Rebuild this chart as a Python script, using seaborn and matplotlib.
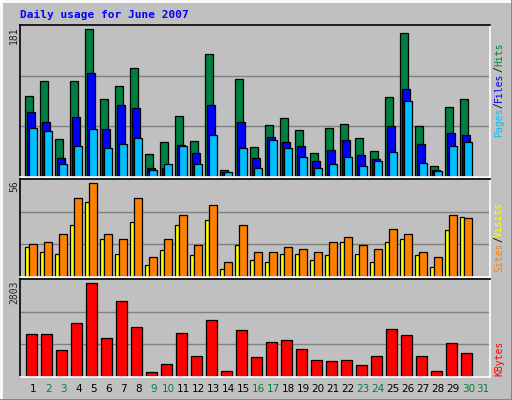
import matplotlib
matplotlib.use("Agg")
import matplotlib.pyplot as plt
import seaborn as sns
import numpy as np

sns.set_style("white")
plt.rcParams['font.family'] = ['DejaVu Sans Mono']

days = list(range(1, 32))
hits = [99,118,46,118,181,96,111,133,28,43,75,44,151,9,120,37,64,72,58,29,60,65,48,32,98,176,62,14,86,96,0]
files = [79,67,23,74,127,59,88,85,11,11,39,29,88,6,67,23,49,43,38,19,33,45,27,22,62,108,40,9,54,51,0]
pages = [60,56,16,38,59,35,40,48,8,16,38,16,51,6,35,11,45,35,24,11,16,24,14,19,30,93,17,7,38,43,0]
sites = [18,15,14,31,45,23,14,33,7,16,31,13,34,5,19,10,9,14,14,10,13,21,14,9,21,23,13,6,28,36,0]
visits = [20,21,26,47,56,26,23,47,12,23,37,19,43,9,31,15,15,18,17,15,21,24,19,17,29,26,15,12,37,35,0]
kbytes = [1274,1274,815,1610,2803,1182,2283,1488,143,387,1304,632,1702,173,1396,601,1060,1121,846,510,479,510,357,632,1427,1243,632,173,1029,724,0]
weekend = {2,3,9,10,16,17,23,24,30,31}

W, H = 512, 400
fig = plt.figure(figsize=(W/100, H/100), dpi=100)
fig.patch.set_facecolor('#C0C0C0')
# bevel
fig.add_artist(plt.Line2D([0,1],[1-0.5/H,1-0.5/H], color='white', lw=2, transform=fig.transFigure))
fig.add_artist(plt.Line2D([0.5/W,0.5/W],[0,1], color='white', lw=2, transform=fig.transFigure))
fig.add_artist(plt.Line2D([0,1],[0.5/H,0.5/H], color='#808080', lw=2, transform=fig.transFigure))
fig.add_artist(plt.Line2D([1-0.5/W,1-0.5/W],[0,1], color='#808080', lw=2, transform=fig.transFigure))

def mkax(top, bottom):
    ax = fig.add_axes([20/W, 1-bottom/H, 470/W, (bottom-top)/H])
    ax.set_facecolor('#C0C0C0')
    ax.set_xlim(1-5/15, 1-5/15+470/15)
    ax.set_xticks([]); ax.set_yticks([])
    for s in ['left','top']:
        ax.spines[s].set_color('black')
    for s in ['right','bottom']:
        ax.spines[s].set_color('white')
    for s in ax.spines.values():
        s.set_linewidth(1.2)
    return ax

d = np.array(days, dtype=float)
bw = 7.7/15
ek = dict(edgecolor='black', linewidth=0.9, align='edge')

ax1 = mkax(25, 177)
ax1.set_ylim(0, 186)
for f in (1/3, 2/3):
    ax1.axhline(186*f, color='#808080', lw=1, zorder=0)
ax1.bar(d, hits, bw, color='#008040', **ek)
ax1.bar(d+2/15, files, bw, color='#0000FF', **ek)
ax1.bar(d+4/15, pages, bw, color='#00C0FF', **ek)

ax2 = mkax(179, 277)
ax2.set_ylim(0, 58.6)
for f in (1/3, 2/3):
    ax2.axhline(58.6*f, color='#808080', lw=1, zorder=0)
ax2.bar(d, sites, 4.3/15, color='#FFFF00', **ek)
ax2.bar(d+4/15, visits, bw, color='#FF8000', **ek)

ax3 = mkax(279, 377)
ax3.set_ylim(0, 2934)
for f in (1/3, 2/3):
    ax3.axhline(2934*f, color='#808080', lw=1, zorder=0)
ax3.bar(d+1/15, kbytes, 10.7/15, color='#FF0000', **ek)

for i in days:
    ax3.text(i+0.55, -0.07, str(i), transform=ax3.get_xaxis_transform(),
             ha='center', va='top', fontsize=7.5, family='DejaVu Sans',
             color='#008040' if i in weekend else 'black')

fig.text(20/W, 1-15/H, 'Daily usage for June 2007', color='#0000FF',
         fontsize=8, fontweight='bold', va='center', ha='left')

def ylab(val, ytop):
    fig.text(14/W, 1-ytop/H, str(val), rotation=90, ha='center', va='top', fontsize=7)
ylab(181, 26); ylab(56, 180); ylab(2803, 280)

cw = 5.9
def rlab(parts, ybottom):
    y = ybottom
    for txt, col in parts:
        fig.text(499/W, 1-y/H, txt, rotation=90, ha='center', va='bottom',
                 fontsize=7, color=col)
        y -= cw*len(txt)
rlab([('Pages', '#00C0FF'), ('/', 'black'), ('Files', '#0000FF'), ('/', 'black'), ('Hits', '#008040')], 137)
rlab([('Sites', '#FF8000'), ('/', 'black'), ('Visits', '#FFFF00')], 272)
rlab([('KBytes', '#FF0000')], 376)

fig.savefig('out.png', dpi=100, facecolor=fig.get_facecolor())
